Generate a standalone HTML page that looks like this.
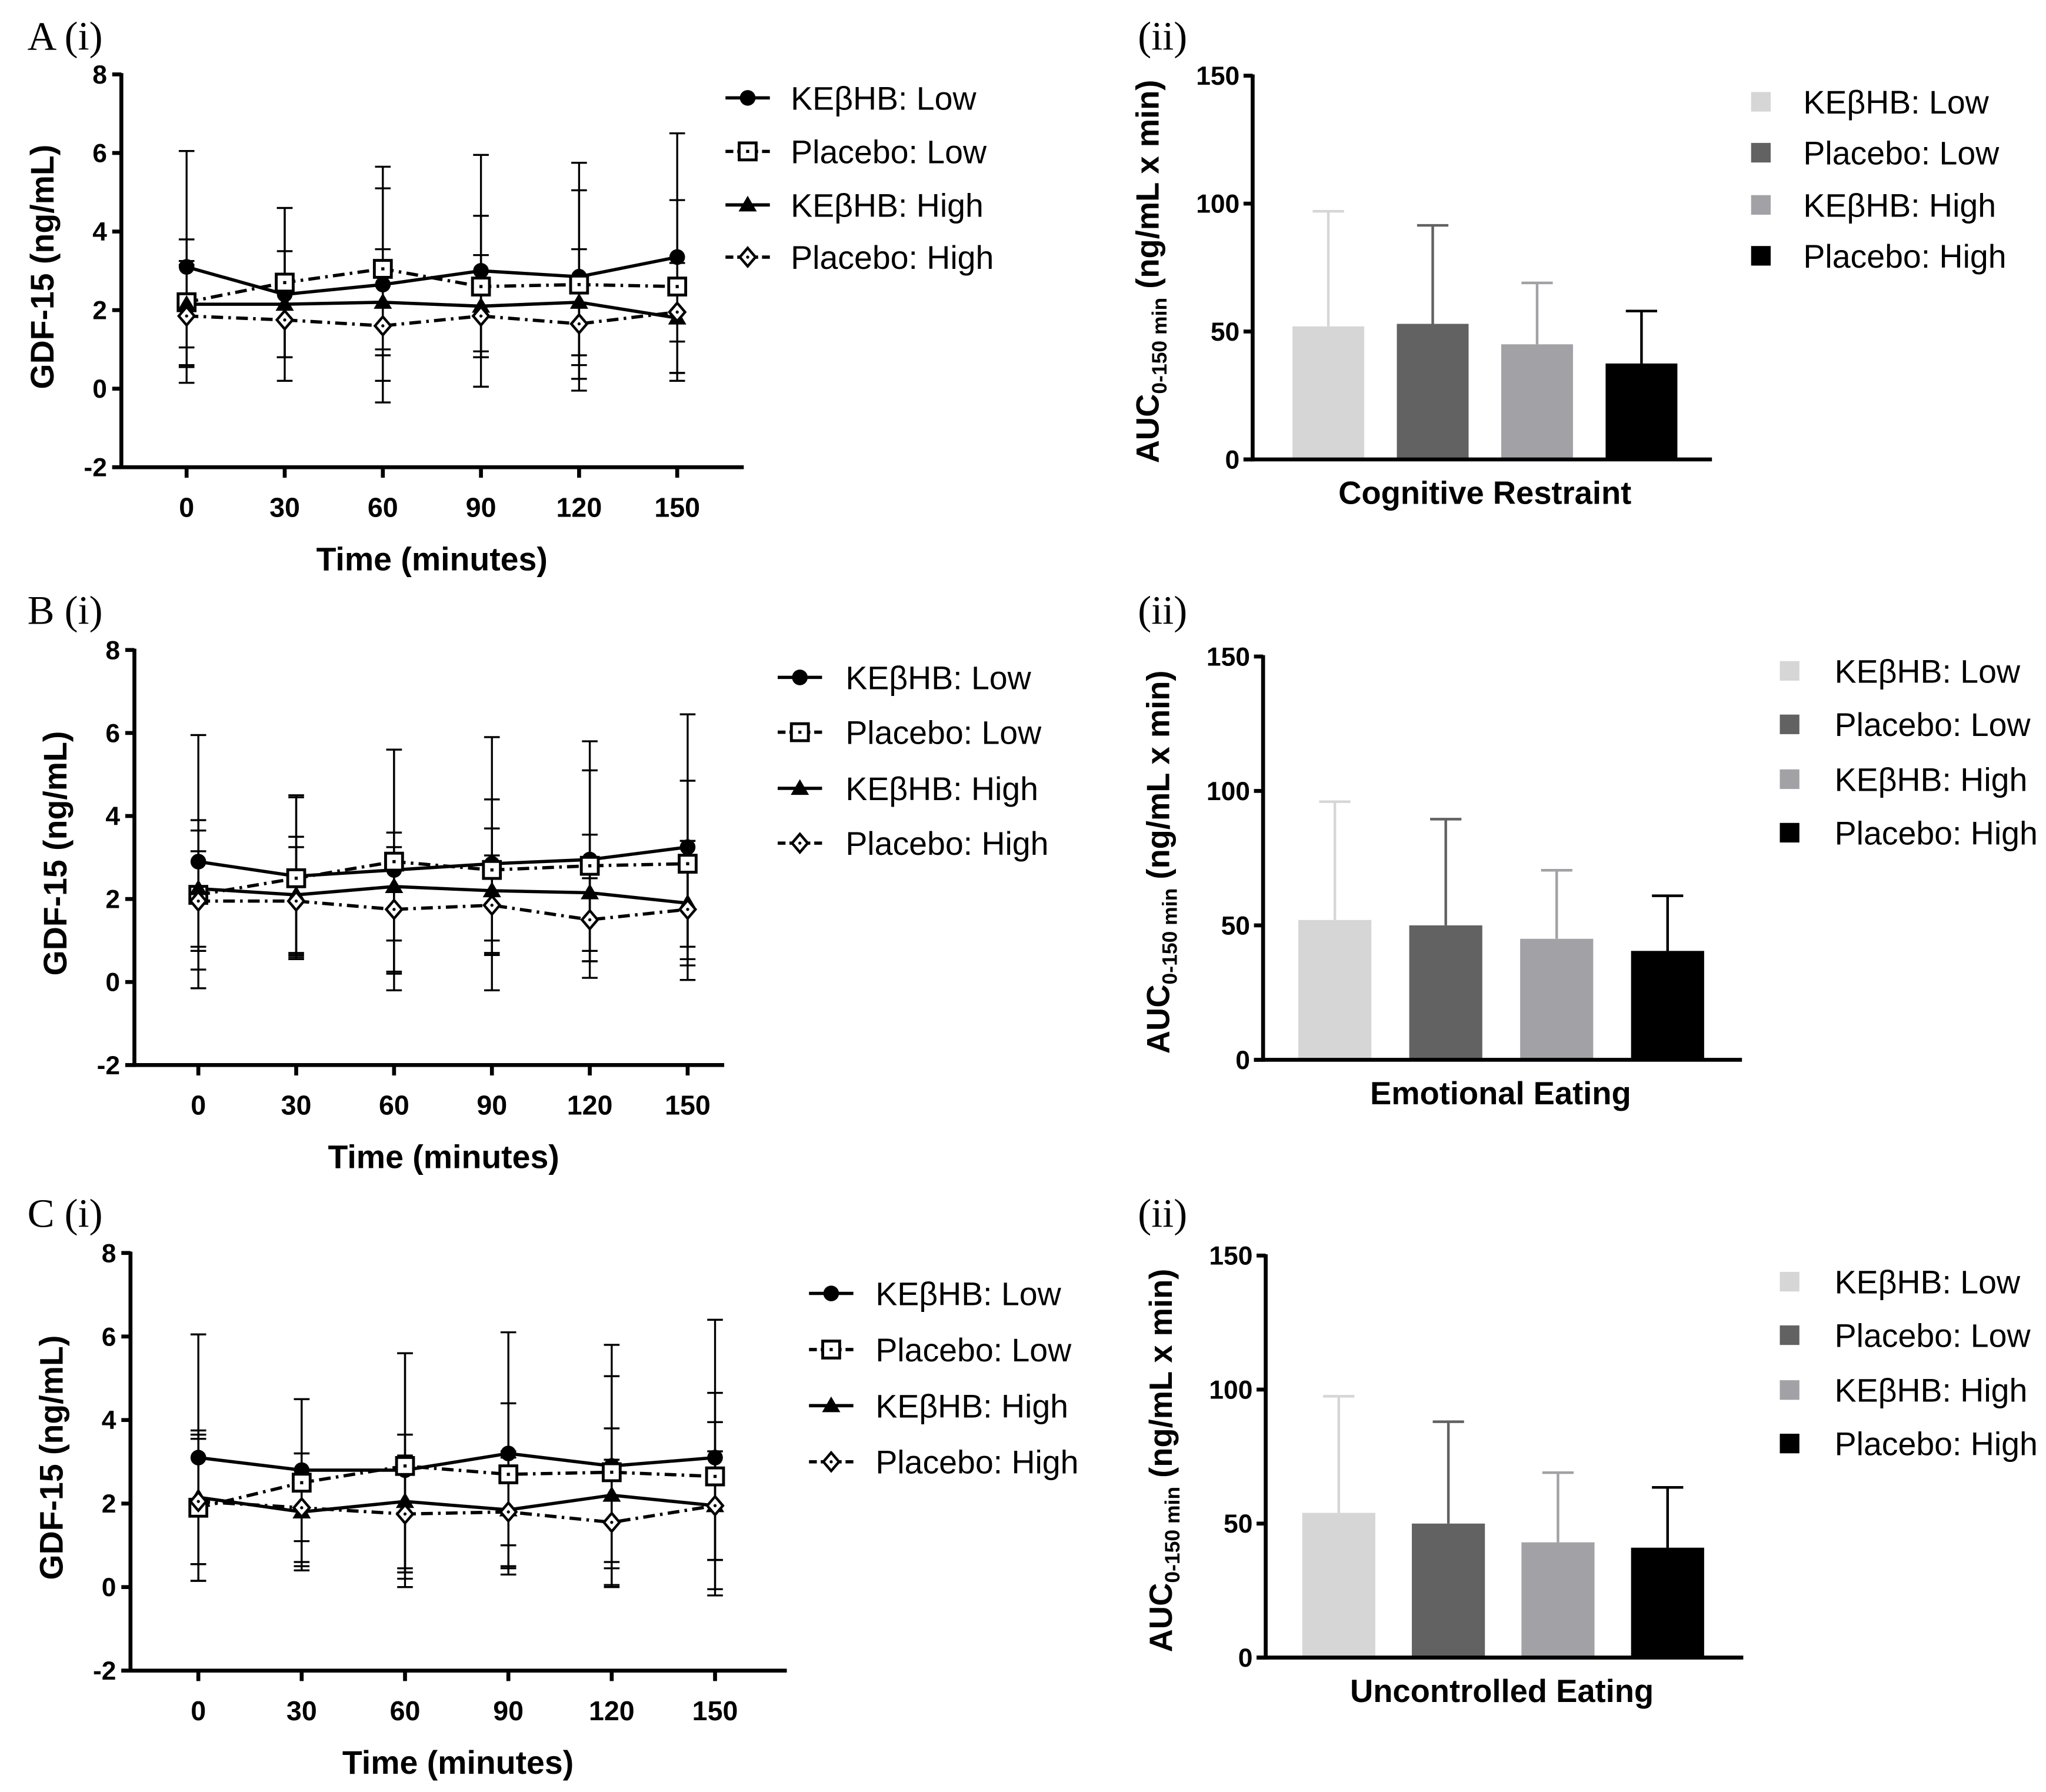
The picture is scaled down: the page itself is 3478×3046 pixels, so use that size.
<!DOCTYPE html>
<html><head><meta charset="utf-8">
<style>
html,body{margin:0;padding:0;background:#fff;}
svg{display:block;}
text{font-family:"Liberation Sans",Arial,sans-serif;}
.serif{font-family:"Liberation Serif","Times New Roman",serif;}
</style></head>
<body>
<svg id="fig" xmlns="http://www.w3.org/2000/svg" width="3478" height="3046" viewBox="0 0 1568 1373" preserveAspectRatio="none"></svg>
<script>
const times = [0,30,60,90,120,150];
const seriesNames = ["KEβHB: Low","Placebo: Low","KEβHB: High","Placebo: High"];
const yTicksLine = [-2,0,2,4,6,8];
const yTicksBar = [0,50,100,150];
// Panel A line data
const aKeLow = [3.1,2.4,2.65,3.0,2.85,3.35];
const aPlLow = [2.2,2.7,3.05,2.6,2.65,2.6];
const aKeHigh = [2.15,2.15,2.2,2.1,2.2,1.8];
const aPlHigh = [1.85,1.75,1.6,1.85,1.65,1.95];
const aKeLowSd = [2.95,2.2,3.0,2.95,2.9,3.15];
const aPlLowSd = [1.6,1.9,2.05,1.8,2.4,2.2];
const aKeHighSd = [1.1,1.35,1.35,1.3,1.35,1.4];
const aPlHighSd = [1.3,0.95,1.4,0.9,1.05,0.75];
// Panel B line data
const bKeLow = [2.9,2.55,2.7,2.85,2.95,3.25];
const bPlLow = [2.1,2.5,2.9,2.7,2.8,2.85];
const bKeHigh = [2.25,2.1,2.3,2.2,2.15,1.9];
const bPlHigh = [1.95,1.95,1.75,1.85,1.5,1.75];
const bKeLowSd = [3.05,1.95,2.9,3.05,2.85,3.2];
const bPlLowSd = [1.8,1.95,2.7,1.7,2.3,2.0];
const bKeHighSd = [1.4,1.4,1.3,1.5,1.4,1.5];
const bPlHighSd = [1.2,1.3,1.5,1.2,1.0,1.2];
// Panel C line data
const cKeLow = [3.1,2.8,2.8,3.2,2.9,3.1];
const cPlLow = [1.9,2.5,2.9,2.7,2.75,2.65];
const cKeHigh = [2.15,1.8,2.05,1.85,2.2,1.95];
const cPlHigh = [2.05,1.9,1.75,1.8,1.55,1.95];
const cKeLowSd = [2.95,1.7,2.8,2.9,2.9,3.3];
const cPlLowSd = [1.75,2.0,2.7,1.7,2.3,2.0];
const cKeHighSd = [1.6,1.4,1.6,1.4,1.6,2.0];
const cPlHighSd = [1.5,1.3,1.4,1.3,1.5,1.3];
// Bar data
const barCategories = ["Cognitive Restraint","Emotional Eating","Uncontrolled Eating"];
const aBarMeans = [52,53,45,37.5];
const aBarErr = [45,38.5,24,20.5];
const bBarMeans = [52,50,45,40.5];
const bBarErr = [44,39.5,25.5,20.5];
const cBarMeans = [54,50,43,41];
const cBarErr = [43.5,38,26,22.5];
const barColors = ["#d6d6d6","#626262","#a2a2a6","#000000"];

const NS="http://www.w3.org/2000/svg";
const svg=document.getElementById('fig');
function mk(tag,attrs,parent){const e=document.createElementNS(NS,tag);for(const k in attrs)e.setAttribute(k,attrs[k]);(parent||svg).appendChild(e);return e;}
function txt(s,attrs,parent){const e=mk('text',attrs,parent);e.textContent=s;return e;}

function panelLabel(s,x,y){
  const t=txt(s,{x:x,y:y,'font-size':31,class:'serif',fill:'#000'});
  
  
}

function marker(g,type,x,y){
  let m;
  if(type===0){m=mk('circle',{cx:x,cy:y,r:6,fill:'#000'},g);}
  else if(type===1){m=mk('rect',{x:x-6.5,y:y-6.5,width:13,height:13,fill:'#fff',stroke:'#000','stroke-width':2.2},g);mk('rect',{x:x-1.2,y:y-1.2,width:2.4,height:2.4,fill:'#000'},g);}
  else if(type===2){m=mk('path',{d:`M${x} ${y-7}L${x+7} ${y+5}L${x-7} ${y+5}Z`,fill:'#000'},g);}
  else {m=mk('path',{d:`M${x} ${y-7}L${x+6} ${y}L${x} ${y+7}L${x-6} ${y}Z`,fill:'#fff',stroke:'#000','stroke-width':2},g);mk('circle',{cx:x,cy:y,r:1.2,fill:'#000'},g);}
  return m;
}

function lineChart(id,P,means,sds){
  const g=mk('g',{});
  
  
  const X=t=>P.x0+(t-0)/150*(P.x150-P.x0);
  const Y=v=>P.y8+(8-v)/10*(P.yn2-P.y8);
  const ya=mk('line',{x1:P.ax,y1:P.y8-1,x2:P.ax,y2:P.yn2+1.5,stroke:'#000','stroke-width':3},g);
  
  const xa=mk('line',{x1:P.ax-7,y1:P.yn2,x2:P.xe,y2:P.yn2,stroke:'#000','stroke-width':3},g);
  
  yTicksLine.forEach(v=>{
    mk('line',{x1:P.ax-7,y1:Y(v),x2:P.ax,y2:Y(v),stroke:'#000','stroke-width':3},g);
    const t=txt(String(v),{x:P.ax-11,y:Y(v)+7,'font-size':20,'font-weight':'bold','text-anchor':'end'},g);
    
  });
  times.forEach(tm=>{
    mk('line',{x1:X(tm),y1:P.yn2,x2:X(tm),y2:P.yn2+8,stroke:'#000','stroke-width':3},g);
    const t=txt(String(tm),{x:X(tm),y:P.yn2+38,'font-size':21,'font-weight':'bold','text-anchor':'middle'},g);
    
  });
  const xt=txt('Time (minutes)',{x:P.xtc,y:P.yn2+79,'font-size':25,'font-weight':'bold','text-anchor':'middle'},g);
  
  const yc=(P.y8+P.yn2)/2-(P.yn2-P.y8)*0.01;
  const yt=txt('GDF-15 (ng/mL)',{x:0,y:0,'font-size':25,'font-weight':'bold','text-anchor':'middle',transform:`translate(${P.ax-52},${yc}) rotate(-90)`},g);
  
  means.forEach((arr,s)=>{
    arr.forEach((m,i)=>{
      const x=X(times[i]);
      const eb=mk('path',{d:`M${x} ${Y(m-sds[s][i])}V${Y(m+sds[s][i])}M${x-6} ${Y(m+sds[s][i])}H${x+6}M${x-6} ${Y(m-sds[s][i])}H${x+6}`,stroke:'#000','stroke-width':1.5,fill:'none'},g);
      
    });
  });
  means.forEach((arr,s)=>{
    const d=arr.map((m,i)=>(i?'L':'M')+X(times[i])+' '+Y(m)).join('');
    const dash=(s%2===1)?'9 4 2 4':'none';
    const ln=mk('path',{d:d,fill:'none',stroke:'#000','stroke-width':2.5,'stroke-dasharray':dash},g);
    
  });
  means.forEach((arr,s)=>{
    arr.forEach((m,i)=>{
      const mm=marker(g,s,X(times[i]),Y(m));
      
    });
  });
  seriesNames.forEach((n,s)=>{
    const ly=P.leg[s];
    const lg=mk('g',{},g);
    
    mk('line',{x1:P.lx,y1:ly,x2:P.lx+34,y2:ly,stroke:'#000','stroke-width':2.5,'stroke-dasharray':(s%2===1)?'6 3 2 3':'none'},lg);
    marker(lg,s,P.lx+17,ly);
    txt(n,{x:P.lt,y:ly+9,'font-size':25},lg);
  });
}

function barChart(id,P,means,errs,cat){
  const g=mk('g',{});
  
  
  const Y=v=>P.y0+(v)/150*(P.y150-P.y0);
  means.forEach((m,i)=>{
    const cx=P.c0+i*P.step;
    const eb=mk('path',{d:`M${cx} ${Y(m)}V${Y(m+errs[i])}M${cx-12} ${Y(m+errs[i])}H${cx+12}`,stroke:barColors[i],'stroke-width':2,fill:'none'},g);
    
    const b=mk('rect',{x:cx-P.bw/2,y:Y(m),width:P.bw,height:Y(0)-Y(m),fill:barColors[i]},g);
    
  });
  const ya=mk('line',{x1:P.ax,y1:P.y150-1,x2:P.ax,y2:P.y0+1.5,stroke:'#000','stroke-width':3},g);
  
  const xa=mk('line',{x1:P.ax-7,y1:P.y0,x2:P.xe,y2:P.y0,stroke:'#000','stroke-width':3},g);
  
  yTicksBar.forEach(v=>{
    mk('line',{x1:P.ax-7,y1:Y(v),x2:P.ax,y2:Y(v),stroke:'#000','stroke-width':3},g);
    const t=txt(String(v),{x:P.ax-10,y:Y(v)+7,'font-size':20,'font-weight':'bold','text-anchor':'end'},g);
    
  });
  const ct=txt(cat,{x:P.lc,y:P.y0+34,'font-size':24.5,'font-weight':'bold','text-anchor':'middle'},g);
  
  const yc=(P.y0+P.y150)/2+3;
  const yt=mk('text',{x:0,y:0,'font-size':24.5,'font-weight':'bold','text-anchor':'middle',transform:`translate(${P.ax-72},${yc}) rotate(-90)`},g);
  
  const t1=mk('tspan',{},yt);t1.textContent='AUC';
  const t2=mk('tspan',{'font-size':16,dy:6},yt);t2.textContent='0-150 min';
  const t3=mk('tspan',{dy:-6},yt);t3.textContent=' (ng/mL x min)';
  seriesNames.forEach((n,s)=>{
    const ly=P.leg[s];
    const lg=mk('g',{},g);
    
    mk('rect',{x:P.lx,y:ly-7.5,width:15,height:15,fill:barColors[s]},lg);
    txt(n,{x:P.lt,y:ly+9,'font-size':25},lg);
  });
}

panelLabel('A (i)',21,38); panelLabel('(ii)',872,38);
panelLabel('B (i)',21,478); panelLabel('(ii)',872,478);
panelLabel('C (i)',21,940); panelLabel('(ii)',872,940);

lineChart('panel-a',{ax:93,y8:57,yn2:358,x0:143,x150:519,xe:570,xtc:331,lx:556,lt:606,leg:[75,116,157,197]},
  [aKeLow,aPlLow,aKeHigh,aPlHigh],[aKeLowSd,aPlLowSd,aKeHighSd,aPlHighSd]);
lineChart('panel-b',{ax:103,y8:498,yn2:816,x0:152,x150:527,xe:555,xtc:340,lx:596,lt:648,leg:[519,561,604,646]},
  [bKeLow,bPlLow,bKeHigh,bPlHigh],[bKeLowSd,bPlLowSd,bKeHighSd,bPlHighSd]);
lineChart('panel-c',{ax:100,y8:960,yn2:1280,x0:152,x150:548,xe:603,xtc:351,lx:620,lt:671,leg:[991,1034,1077,1120]},
  [cKeLow,cPlLow,cKeHigh,cPlHigh],[cKeLowSd,cPlLowSd,cKeHighSd,cPlHighSd]);

barChart('panel-a',{ax:960,y150:58,y0:352,c0:1018,step:80,bw:55,xe:1312,lc:1138,lx:1342,lt:1382,leg:[78,117,157,196]},aBarMeans,aBarErr,barCategories[0]);
barChart('panel-b',{ax:968,y150:503,y0:812,c0:1023,step:85,bw:56,xe:1335,lc:1150,lx:1364,lt:1406,leg:[514,555,597,638]},bBarMeans,bBarErr,barCategories[1]);
barChart('panel-c',{ax:970,y150:962,y0:1270,c0:1026,step:84,bw:56,xe:1336,lc:1151,lx:1364,lt:1406,leg:[982,1023,1065,1106]},cBarMeans,cBarErr,barCategories[2]);
</script>
</body></html>
